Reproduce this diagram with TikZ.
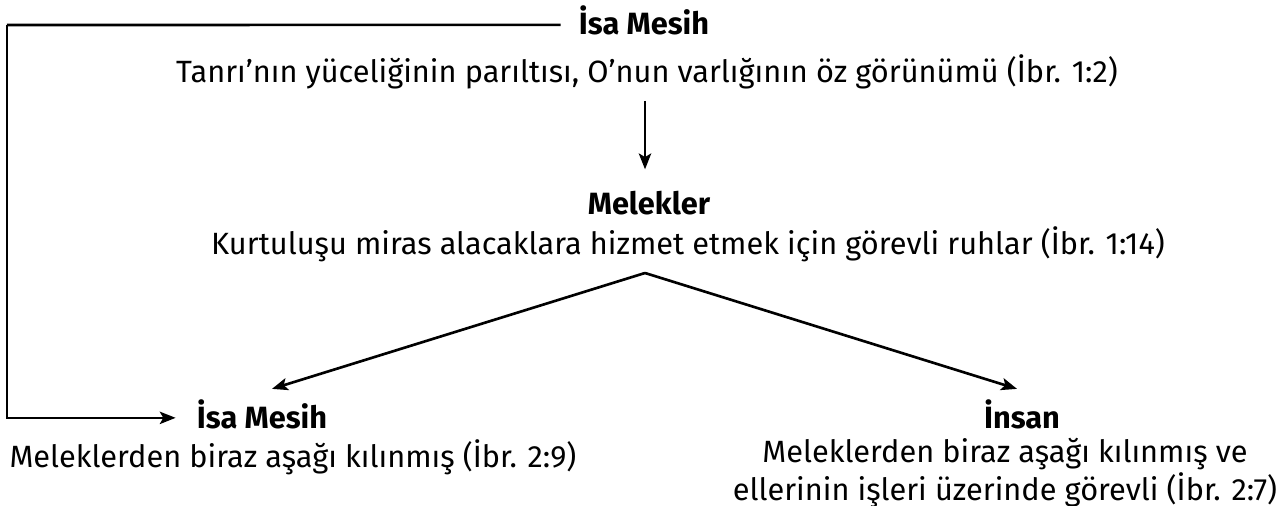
\documentclass[tikz,border=0pt]{standalone}
\usepackage{fontspec}
\setmainfont{Fira Sans}
\usepackage{tikz}
\usetikzlibrary{positioning, calc, arrows.meta}

\begin{document}
\begin{tikzpicture}[x=0.02cm, y=-0.02cm, >={Stealth[length=9pt, width=7pt, inset=2pt]}, line width=1.5pt]
        \tikzstyle{head}=[inner sep=0pt, anchor=base, font=\fontsize{17.5}{19}\selectfont\bfseries];
        \tikzstyle{desc}=[inner sep=0pt, anchor=base, align=center, font=\fontsize{17.5}{19}\selectfont];
        \useasboundingbox (0,0) rectangle (1280,506);
        \node[head] (isatop) at (644,35) {İsa Mesih};
        \node[desc] (isatopd) at ($(isatop.base)+(3,48)$) {Tanrı’nın yüceliğinin parıltısı, O’nun varlığının öz görünümü (İbr. 1:2)};
        \node[head] (mel) at (649,215) {Melekler};
        \node[desc] (meld) at ($(mel.base)+(39,40)$) {Kurtuluşu miras alacaklara hizmet etmek için görevli ruhlar (İbr. 1:14)};
        \node[head] (isa) at (262,428) {İsa Mesih};
        \node[desc] (isad) at ($(isa.base)+(31,39)$) {Meleklerden biraz aşağı kılınmış (İbr. 2:9)};
        \node[head] (insan) at (1022,428) {İnsan};
        \node[desc] (insand) at ($(insan.base)+(-17,72)$) {Meleklerden biraz aşağı kılınmış ve\\ellerinin işleri üzerinde görevli (İbr. 2:7)};
        \coordinate (corner) at (7,25);
        \coordinate (apex) at (645,273);

        \draw ($(isatop.west)+(-17,4)$) -- (corner);
        \draw[->] (corner) |- ($(isa.west)+(-20,4)$);
        \draw[->] ($(isatopd.south)+(-2,10)$) -- ($(mel.north)+(-4,-21)$);
        \draw[->] (apex) -- ($(isa.north)+(10,-9)$);
        \draw[->] (apex) -- ($(insan.north)+(-5,-9)$);
      \end{tikzpicture}
\end{document}
